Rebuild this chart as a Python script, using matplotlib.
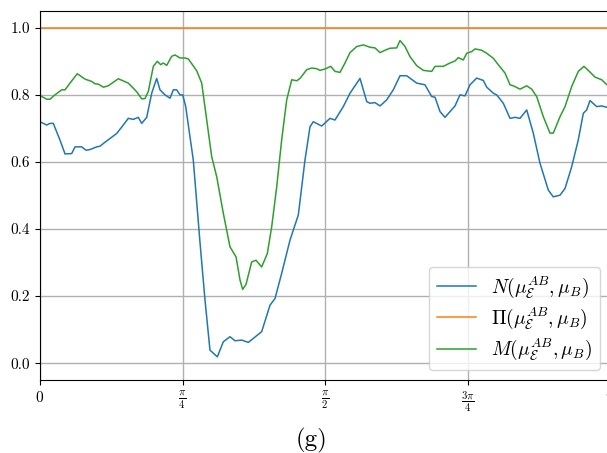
import numpy as np
import matplotlib
matplotlib.use('Agg')
import matplotlib.pyplot as plt

# Estilo tipo LaTeX
plt.rcParams['font.family'] = 'serif'
plt.rcParams['font.serif'] = ['cmr10']
plt.rcParams['mathtext.fontset'] = 'cm'
plt.rcParams['axes.formatter.use_mathtext'] = True

# x en fracciones de pi
x_n = [0, 0.0118, 0.0175, 0.0233, 0.0351, 0.0439, 0.0556, 0.0614, 0.0732, 0.0807,
       0.0877, 0.0995, 0.1053, 0.1111, 0.1346, 0.1461, 0.1549, 0.1637, 0.1725, 0.1784,
       0.1872, 0.1960, 0.2047, 0.2105, 0.2193, 0.2281, 0.2339, 0.2398, 0.2456, 0.2504,
       0.2556, 0.2689, 0.2807, 0.2895, 0.2982, 0.3111, 0.3216, 0.3333, 0.3421, 0.3539,
       0.3654, 0.3742, 0.3889, 0.4035, 0.4123, 0.4240, 0.4386, 0.4532, 0.4649, 0.4737,
       0.4795, 0.4942, 0.5088, 0.5175, 0.5321, 0.5439, 0.5614, 0.5732, 0.5789, 0.5877,
       0.5965, 0.6082, 0.6198, 0.6316, 0.6433, 0.6609, 0.6754, 0.6872, 0.6930, 0.7018,
       0.7105, 0.7281, 0.7368, 0.7456, 0.7544, 0.7661, 0.7777, 0.7837, 0.7953, 0.8012,
       0.8128, 0.8246, 0.8333, 0.8421, 0.8539, 0.8654, 0.8772, 0.8918, 0.9005, 0.9123,
       0.9211, 0.9328, 0.9444, 0.9532, 0.9591, 0.9649, 0.9767, 0.9854, 0.9947, 1.0]
N = [0.72, 0.71, 0.715, 0.715, 0.665, 0.624, 0.625, 0.645, 0.645, 0.635,
     0.637, 0.645, 0.647, 0.655, 0.685, 0.71, 0.73, 0.727, 0.733, 0.715,
     0.733, 0.805, 0.849, 0.815, 0.80, 0.79, 0.815, 0.815, 0.80, 0.80,
     0.765, 0.606, 0.36, 0.188, 0.039, 0.019, 0.064, 0.079, 0.067, 0.069,
     0.062, 0.074, 0.094, 0.173, 0.193, 0.268, 0.367, 0.442, 0.606, 0.705,
     0.72, 0.707, 0.73, 0.725, 0.765, 0.805, 0.849, 0.78, 0.775, 0.777,
     0.767, 0.785, 0.815, 0.857, 0.857, 0.835, 0.83, 0.795, 0.793, 0.75,
     0.733, 0.767, 0.80, 0.797, 0.83, 0.85, 0.843, 0.823, 0.805, 0.80,
     0.775, 0.73, 0.733, 0.73, 0.755, 0.686, 0.596, 0.516, 0.496, 0.501,
     0.521, 0.586, 0.666, 0.745, 0.755, 0.783, 0.765, 0.767, 0.763, 0.762]

x_m = [0, 0.0118, 0.0175, 0.0263, 0.0381, 0.0439, 0.0526, 0.0654, 0.0789, 0.0907,
       0.0965, 0.1023, 0.1111, 0.1198, 0.1374, 0.1549, 0.1637, 0.1707, 0.1784, 0.1842,
       0.1900, 0.1988, 0.2058, 0.2118, 0.2163, 0.2223, 0.2311, 0.2368, 0.2456, 0.2544,
       0.2602, 0.2632, 0.2749, 0.2837, 0.2925, 0.3012, 0.3100, 0.3216, 0.3333, 0.3439,
       0.3509, 0.3556, 0.3614, 0.3714, 0.3789, 0.3889, 0.3988, 0.4065, 0.4153, 0.4240,
       0.4328, 0.4416, 0.4504, 0.4561, 0.4679, 0.4767, 0.4854, 0.4912, 0.5, 0.5100,
       0.5175, 0.5263, 0.5351, 0.5439, 0.5556, 0.5672, 0.5789, 0.5877, 0.5965, 0.6053,
       0.6140, 0.6258, 0.6316, 0.6404, 0.6491, 0.6609, 0.6725, 0.6872, 0.6930, 0.7075,
       0.7193, 0.7281, 0.7339, 0.7426, 0.7486, 0.7574, 0.7632, 0.7749, 0.7837, 0.7953,
       0.8040, 0.8158, 0.8246, 0.8304, 0.8421, 0.8539, 0.8626, 0.8714, 0.8830, 0.8947,
       0.9005, 0.9123, 0.9211, 0.9328, 0.9444, 0.9544, 0.9619, 0.9737, 0.9854, 0.9947, 1.0]
M = [0.798, 0.787, 0.787, 0.80, 0.815, 0.815, 0.835, 0.863, 0.847, 0.84,
     0.833, 0.832, 0.823, 0.827, 0.848, 0.835, 0.82, 0.807, 0.788, 0.789,
     0.81, 0.885, 0.90, 0.89, 0.895, 0.888, 0.915, 0.919, 0.91, 0.91,
     0.907, 0.90, 0.872, 0.835, 0.725, 0.616, 0.556, 0.447, 0.347, 0.317,
     0.248, 0.22, 0.235, 0.302, 0.307, 0.287, 0.327, 0.407, 0.526, 0.666,
     0.785, 0.845, 0.842, 0.849, 0.875, 0.88, 0.878, 0.873, 0.877, 0.885,
     0.87, 0.867, 0.895, 0.926, 0.944, 0.949, 0.942, 0.94, 0.926, 0.933,
     0.939, 0.94, 0.962, 0.944, 0.914, 0.887, 0.873, 0.87, 0.885, 0.885,
     0.895, 0.901, 0.911, 0.904, 0.924, 0.929, 0.937, 0.933, 0.924, 0.909,
     0.89, 0.865, 0.83, 0.827, 0.817, 0.827, 0.817, 0.795, 0.735, 0.686,
     0.686, 0.735, 0.765, 0.825, 0.87, 0.885, 0.873, 0.853, 0.845, 0.83, 0.825]

x_pi = [0, 1.0]
Pi = [1.0, 1.0]

xticks = [0, 0.25, 0.5, 0.75, 1.0]
xtick_labels = [r'$0$', r'$\frac{\pi}{4}$', r'$\frac{\pi}{2}$', r'$\frac{3\pi}{4}$', r'$\pi$']
yticks = [0.0, 0.2, 0.4, 0.6, 0.8, 1.0]

fig = plt.figure(figsize=(6.07, 4.53), dpi=100)
ax = fig.add_axes([40/607, 73/453, 570/607, 369/453])

ax.plot(np.array(x_n) * np.pi, N, color='C0', lw=1.1, label=r'$N(\mu_{\mathcal{E}}^{AB},\mu_B)$')
ax.plot(np.array(x_pi) * np.pi, Pi, color='C1', lw=1.1, label=r'$\Pi(\mu_{\mathcal{E}}^{AB},\mu_B)$')
ax.plot(np.array(x_m) * np.pi, M, color='C2', lw=1.1, label=r'$M(\mu_{\mathcal{E}}^{AB},\mu_B)$')

ax.set_xlim(0, np.pi)
ax.set_ylim(-0.05, 1.05)
ax.set_xticks(np.array(xticks) * np.pi)
ax.set_xticklabels(xtick_labels)
ax.set_yticks(yticks)
ax.set_yticklabels(['%.1f' % v for v in yticks])
ax.tick_params(labelsize=11)
ax.grid(True, color='#b0b0b0', lw=1.0)
ax.legend(loc='lower right', fontsize=14, labelspacing=0.3)

fig.text(311/607, 13/453, '(g)', ha='center', va='center', fontsize=18)

fig.savefig('out.png', dpi=100)
